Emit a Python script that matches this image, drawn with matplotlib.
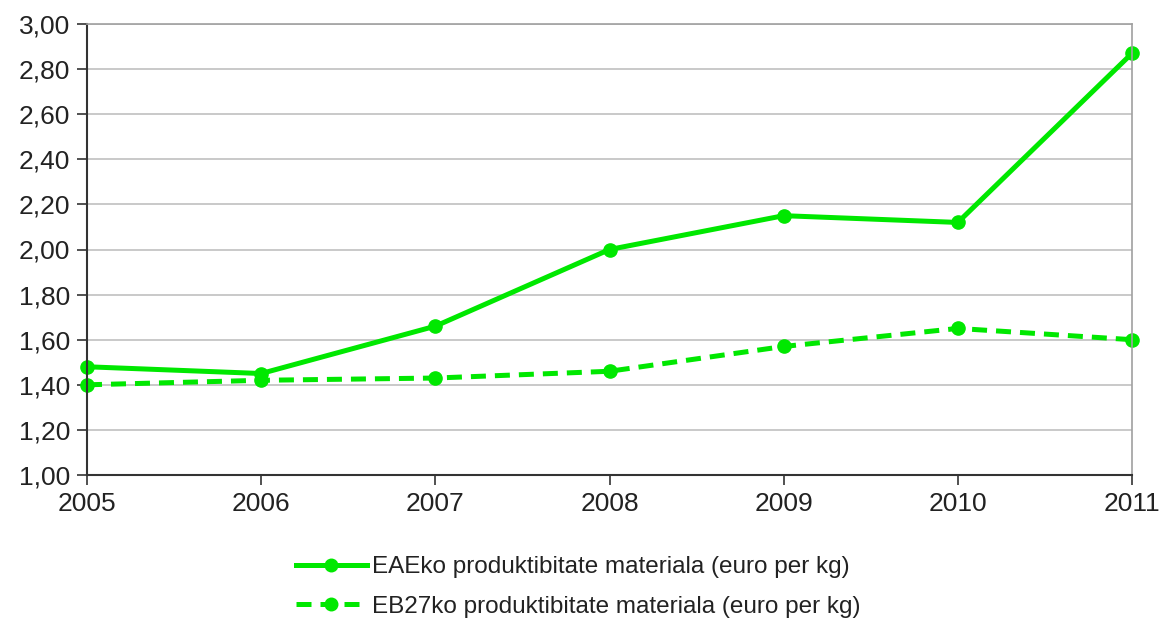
import matplotlib
matplotlib.use("Agg")
import matplotlib.pyplot as plt
from matplotlib.ticker import FuncFormatter

years = [2005, 2006, 2007, 2008, 2009, 2010, 2011]
eae = [1.48, 1.45, 1.66, 2.00, 2.15, 2.12, 2.87]
eb27 = [1.40, 1.42, 1.43, 1.46, 1.57, 1.65, 1.60]
labels = ["EAEko produktibitate materiala (euro per kg)",
          "EB27ko produktibitate materiala (euro per kg)"]

plt.rcParams['font.family'] = ['Liberation Sans', 'DejaVu Sans']
green = '#00e800'

fig = plt.figure(figsize=(11.61, 6.2), dpi=100)
ax = fig.add_axes([87/1161, 1-475/620, (1132-87)/1161, (475-24)/620])

ax.plot(years, eae, color=green, lw=3.6, marker='o', markersize=9.5, label=labels[0])
ax.plot(years, eb27, color=green, lw=3.6, marker='o', markersize=9.5, linestyle=(0, (3, 1.8)), label=labels[1])

ax.set_xlim(2005, 2011)
ax.set_ylim(1.0, 3.0)
ax.set_xticks(years)
ax.set_yticks([1.0 + 0.2*i for i in range(11)])
ax.yaxis.set_major_formatter(FuncFormatter(lambda v, p: f"{v:.2f}".replace('.', ',')))
ax.grid(axis='y', color='#c0c0c0', lw=1.2)
ax.set_axisbelow(True)
for s in ['top', 'right']:
    ax.spines[s].set_color('#a0a0a0')
    ax.spines[s].set_linewidth(1.2)
for s in ['left', 'bottom']:
    ax.spines[s].set_color('#333333')
    ax.spines[s].set_linewidth(1.5)
ax.tick_params(axis='both', direction='out', length=7, width=1.2, color='#333333',
               labelsize=19, labelcolor='#222222', pad=5)
for t in ax.get_lines():
    t.set_clip_on(False)

leg = fig.legend(loc='center', bbox_to_anchor=(0.498, 1-587/620), ncol=1, frameon=False,
                 fontsize=17.5, handlelength=2.95, labelspacing=0.7, handletextpad=0.2,
                 markerscale=0.95)
for t in leg.get_texts():
    t.set_color('#222222')

fig.savefig('out.png', dpi=100, facecolor='white')
